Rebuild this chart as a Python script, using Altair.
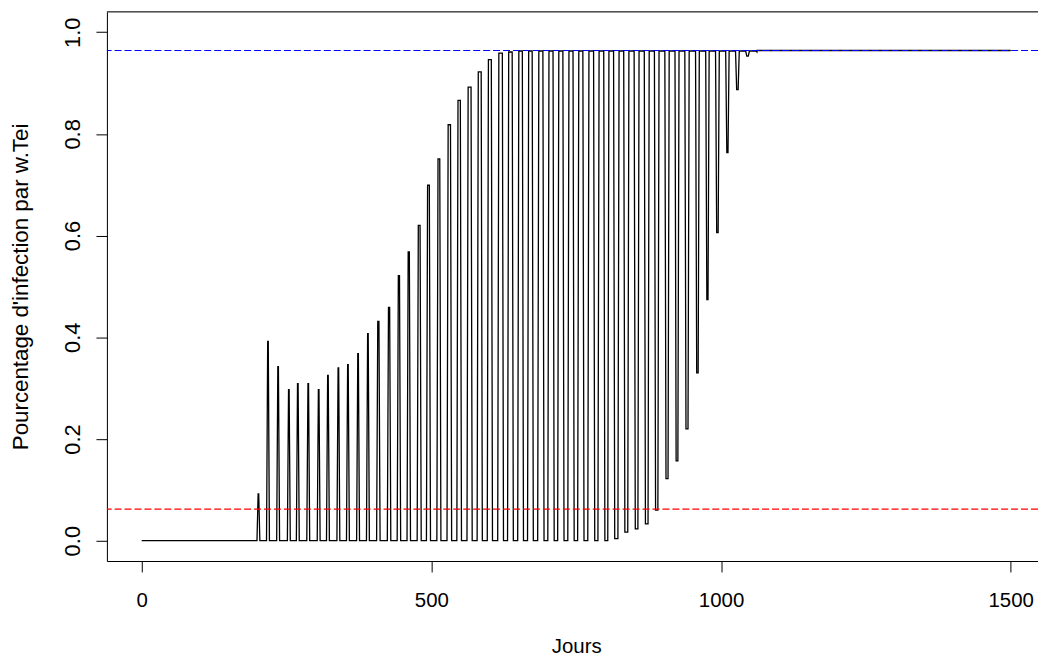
import altair as alt
import pandas as pd

# ---- values ----
# day of each peak of the oscillation
peak_day = [201, 217.5, 235, 253.5, 269, 287, 305, 321, 339, 355.5,
            373, 390, 407.5, 426, 443, 460, 477.5, 493.5, 511.5, 529,
            546, 563.5, 581, 598.5, 616.5, 633.5, 651, 668, 685.5, 703,
            720, 737.5, 754.5, 772, 789.5, 806.5, 824, 841, 858.5, 876,
            893, 910.5, 927.5, 945, 962.5, 979.5, 997, 1014, 1031.5, 1049]
# value at each peak
peak_val = [0.092, 0.392, 0.342, 0.297, 0.309, 0.309, 0.297, 0.325, 0.340, 0.346,
            0.368, 0.407, 0.431, 0.459, 0.521, 0.568, 0.620, 0.699, 0.751, 0.818,
            0.866, 0.892, 0.922, 0.946, 0.959, 0.961, 0.963, 0.963, 0.963, 0.963,
            0.963, 0.963, 0.963, 0.963, 0.963, 0.963, 0.963, 0.963, 0.963, 0.963,
            0.963, 0.963, 0.963, 0.963, 0.963, 0.963, 0.963, 0.963, 0.963, 0.963]
# value of the trough that follows each peak
trough_val = [0.0, 0.0, 0.0, 0.0, 0.0, 0.0, 0.0, 0.0, 0.0, 0.0,
              0.0, 0.0, 0.0, 0.0, 0.0, 0.0, 0.0, 0.0, 0.0, 0.0,
              0.0, 0.0, 0.0, 0.0, 0.0, 0.0, 0.0, 0.0, 0.0, 0.0,
              0.0, 0.0, 0.0, 0.0, 0.0, 0.004, 0.017, 0.023, 0.033, 0.060,
              0.122, 0.157, 0.220, 0.330, 0.474, 0.606, 0.763, 0.887, 0.953, 0.961]
# number of days the series stays near each peak
peak_hold = [1, 1, 1, 1, 1, 1, 1, 1, 1, 1,
             1, 1, 2, 2, 2, 2, 3, 3, 3, 4,
             4, 5, 5, 5, 6, 6, 6, 6, 7, 7,
             7, 7, 7, 8, 8, 8, 8, 9, 9, 9,
             10, 10, 10, 11, 11, 11, 11, 11, 11, 11]
start_day = 0
end_day = 1500
plateau_start = 1062
plateau_val = 0.964
blue_level = 0.964
red_level = 0.062
x_ticks = [0, 500, 1000, 1500]
y_ticks = [0.0, 0.2, 0.4, 0.6, 0.8, 1.0]

# ---- build the line table ----
days, vals = [start_day, peak_day[0] - 2], [0.0, 0.0]
n = len(peak_day)
for k in range(n):
    days += [peak_day[k], peak_day[k] + peak_hold[k], peak_day[k] + peak_hold[k] + 2]
    vals += [peak_val[k], peak_val[k], trough_val[k]]
    if k < n - 1:
        days.append(peak_day[k + 1] - 2)
        vals.append(trough_val[k])
days += [plateau_start, end_day]
vals += [plateau_val, plateau_val]
line_df = pd.DataFrame({"day": days, "val": vals, "o": list(range(len(days)))})

FONT = "Liberation Sans"
W, H = 934.7, 551.3
xs = alt.Scale(domain=[-60, 1547.1], nice=False, zero=False)
ys = alt.Scale(domain=[-0.04, 1.04], nice=False, zero=False)

line = alt.Chart(line_df).mark_line(color="black", strokeWidth=1.3).encode(
    x=alt.X("day:Q", scale=xs, axis=alt.Axis(
        values=x_ticks, format="d", title="Jours", grid=False, tickSize=11,
        labelPadding=19, labelBaseline="top", labelFontSize=20.5, titleFontSize=20.5,
        labelFont=FONT, titleFont=FONT, titleFontWeight="normal",
        labelColor="black", titleColor="black", tickColor="black",
        domainColor="black", titleX=471.1, titleY=86, titleAlign="center",
        titleBaseline="middle", labelFlush=False, labelOverlap=False)),
    y=alt.Y("val:Q", scale=ys, axis=alt.Axis(
        values=y_ticks, format=".1f", title="Pourcentage d'infection par w.Tei",
        grid=False, tickSize=11, labelPadding=24, labelAngle=270,
        labelAlign="center", labelBaseline="middle", labelFontSize=22,
        titleFontSize=22.4, labelFont=FONT, titleFont=FONT, titleFontWeight="normal",
        labelColor="black", titleColor="black", tickColor="black",
        domainColor="black", titleAngle=270, titleX=-86.5, titleY=H / 2,
        titleAlign="center", titleBaseline="middle", labelFlush=False,
        labelOverlap=False)),
    order="o:Q",
)

blue = alt.Chart(pd.DataFrame({"y": [blue_level]})).mark_rule(
    color="#0000ff", strokeDash=[7, 3], strokeWidth=1.1).encode(y=alt.Y("y:Q", scale=ys))
red = alt.Chart(pd.DataFrame({"y": [red_level]})).mark_rule(
    color="#ff0000", strokeDash=[7, 3], strokeWidth=1.1).encode(y=alt.Y("y:Q", scale=ys))
top = alt.Chart(pd.DataFrame({"y": [1.04]})).mark_rule(
    color="black", strokeWidth=1).encode(y=alt.Y("y:Q", scale=ys))

chart = alt.layer(line, blue, red, top).properties(
    width=W, height=H,
    autosize=alt.AutoSizeParams(type="none"),
    padding={"left": 99.3, "top": 2.6, "right": 0, "bottom": 94.1},
).configure_view(stroke=None).configure(background="white")

chart.save("out.html", embed_options={"renderer": "svg", "actions": False})
